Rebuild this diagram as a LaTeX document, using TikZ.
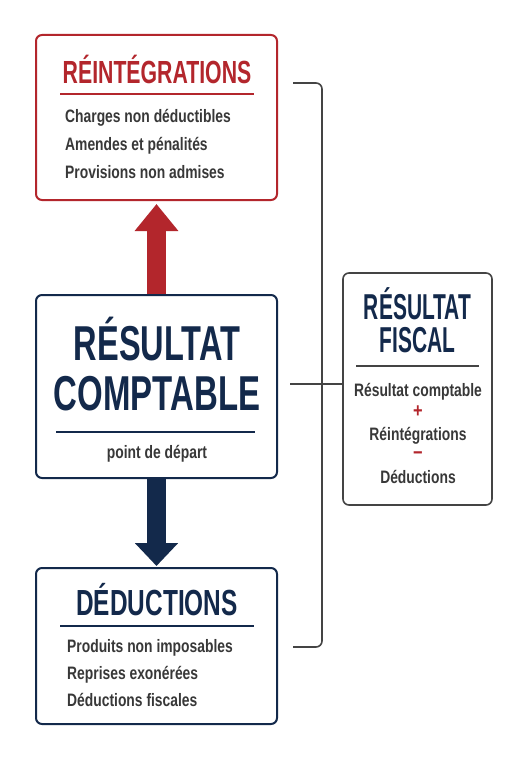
\documentclass[tikz,border=0pt]{standalone}
\usepackage{fontspec}
\usepackage{graphicx}
\setmainfont{Liberation Sans}
\newfontfamily\condfont{Liberation Sans}[FakeStretch=0.82]
\newfontfamily\bodyfont{Liberation Sans Bold}[FakeStretch=0.77]
\usetikzlibrary{arrows.meta}
\definecolor{myred}{HTML}{B3262C}
\definecolor{mynavy}{HTML}{13294B}
\definecolor{mygray}{HTML}{444444}
\definecolor{mytext}{HTML}{383838}
\newcommand{\ttl}[3]{{\fontsize{#1}{#1}\selectfont\condfont\bfseries\scalebox{#2}[1]{#3}}}
\tikzset{
  boxbase/.style={draw, line width=2pt, rounded corners=6pt, fill=white, inner sep=0pt},
  redbox/.style={boxbase, draw=myred, minimum width=241pt},
  navybox/.style={boxbase, draw=mynavy, minimum width=241pt},
  graybox/.style={boxbase, draw=mygray, line width=1.6pt, minimum width=149pt},
  itemtxt/.style={inner sep=0pt, text=mytext, font=\fontsize{18}{18}\selectfont\bodyfont},
  ttlnode/.style={inner sep=0pt},
  rulered/.style={draw=myred, line width=1.2pt},
  rulenavy/.style={draw=mynavy, line width=1.2pt},
  rulegray/.style={draw=mygray, line width=1.2pt},
  conn/.style={draw=mygray, line width=1.6pt},
  fatred/.style={draw=myred, line width=19pt, -{Triangle[width=42pt,length=27pt]}},
  fatnavy/.style={draw=mynavy, line width=19pt, -{Triangle[width=42pt,length=23pt]}},
}
\begin{document}
\begin{tikzpicture}[x=1pt,y=-1pt]
\useasboundingbox[fill=white] (0,0) rectangle (511,768);
% boxes
\node[redbox, minimum height=165pt] (rein) at (156.5,117.5) {};
\node[navybox, minimum height=183pt] (mid) at (156.5,386.5) {};
\node[navybox, minimum height=156pt] (ded) at (156.5,646) {};
\node[graybox, minimum height=232pt] (fisc) at (417.5,389) {};
% arrows
\draw[fatred, shorten >=3pt] (mid.north) -- (rein.south);
\draw[fatnavy, shorten >=1pt] (mid.south) -- (ded.north);
% réintégrations
\node[ttlnode, anchor=base, text=myred] (reint) at (157,84) {\ttl{32}{0.81}{RÉINTÉGRATIONS}};
\draw[rulered] (60,94) -- (254,94);
\node[itemtxt, anchor=base west] (r1) at (65,122) {Charges non déductibles};
\node[itemtxt, anchor=base west] (r2) at (65,150) {Amendes et pénalités};
\node[itemtxt, anchor=base west] (r3) at (65,178) {Provisions non admises};
% résultat comptable
\node[ttlnode, anchor=base, text=mynavy] (midt1) at (157,360) {\ttl{49}{0.81}{RÉSULTAT}};
\node[ttlnode, anchor=base, text=mynavy] (midt2) at (157,410) {\ttl{49}{0.82}{COMPTABLE}};
\draw[rulenavy] (56,432) -- (255,432);
\node[itemtxt, anchor=base] (midsub) at (157,458) {point de départ};
% déductions
\node[ttlnode, anchor=base, text=mynavy] (dedt) at (157,615) {\ttl{36.3}{0.82}{DÉDUCTIONS}};
\draw[rulenavy] (60,626) -- (254,626);
\node[itemtxt, anchor=base west] (d1) at (67,652) {Produits non imposables};
\node[itemtxt, anchor=base west] (d2) at (67,679) {Reprises exonérées};
\node[itemtxt, anchor=base west] (d3) at (67,706) {Déductions fiscales};
% résultat fiscal
\node[ttlnode, anchor=base, text=mynavy] (ft1) at (417.5,319) {\ttl{36}{0.71}{RÉSULTAT}};
\node[ttlnode, anchor=base, text=mynavy] (ft2) at (417.5,352) {\ttl{36}{0.71}{FISCAL}};
\draw[rulegray] (356,366) -- (479,366);
\node[itemtxt, anchor=base] (f1) at (418,396) {Résultat comptable};
\node[inner sep=0pt, text=myred, font=\fontsize{20}{20}\selectfont\condfont\bfseries] (fplus) at (418,412) {+};
\node[itemtxt, anchor=base] (f2) at (418,440) {Réintégrations};
\node[inner sep=0pt, text=myred, font=\fontsize{20}{20}\selectfont\condfont\bfseries] (fminus) at (418,456) {−};
\node[itemtxt, anchor=base] (f3) at (418,483) {Déductions};
% bracket and link
\coordinate (btop) at (293,83);
\coordinate (bbot) at (293,647);
\coordinate (bx) at (322,0);
\draw[conn, rounded corners=6pt] (btop) -| (bx |- bbot) -- (bbot);
\coordinate (hl) at (290,384);
\draw[conn] (hl) -- (hl -| fisc.west);
\end{tikzpicture}
\end{document}
